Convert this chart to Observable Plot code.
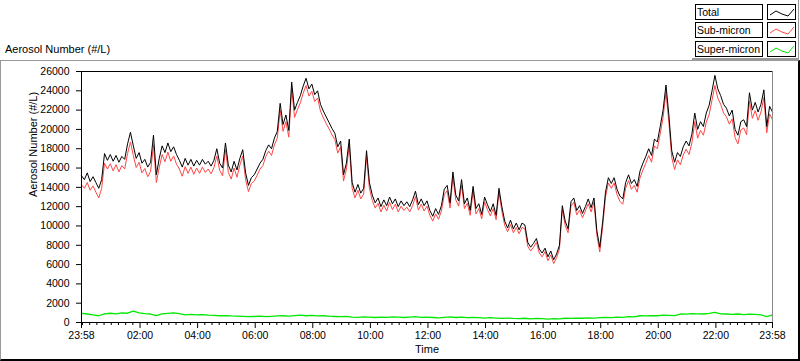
<!DOCTYPE html>
<html>
<head>
<meta charset="utf-8">
<script src="https://cdn.jsdelivr.net/npm/d3@7"></script>
<script src="https://cdn.jsdelivr.net/npm/@observablehq/plot@0.6"></script>
<style>
  html, body { margin: 0; padding: 0; background: #fff; }
  #wrap { position: relative; width: 800px; height: 361px; background: #fff; overflow: hidden;
          font-family: "Liberation Sans", Arial, sans-serif; color: #000; }
  #wrap svg.plot { position: absolute; left: 0; top: 0; }
  .panel { position: absolute; left: 0; top: 60px; width: 797px; height: 298px;
           border-top: 1px solid #9a9a9a; border-left: 1px solid #9a9a9a;
           border-right: 2px solid #000; border-bottom: 2px solid #000; }
  .legpanel { position: absolute; left: 692px; top: 0; width: 106px; height: 58px;
              border-right: 1px solid #9a9a9a; border-bottom: 2px solid #9a9a9a; }
  .title { position: absolute; left: 5px; top: 43px; font-size: 11px; white-space: nowrap; }
  .leg-name { position: absolute; left: 695px; width: 65px; height: 14px; border: 1px solid #000;
              font-size: 10.5px; line-height: 14px; padding-left: 1px; box-sizing: content-box; white-space: nowrap; overflow: hidden; }
  .leg-swatch { position: absolute; left: 767px; width: 27px; height: 14px; border: 1px solid #000; }
</style>
</head>
<body>
<div id="wrap">
  <div class="panel"></div>
  <div class="legpanel"></div>
</div>
<script>
// ---------------- data ----------------
const seriesNames = ["Total", "Sub-micron", "Super-micron"];
const seriesColors = ["#000000", "#ff4646", "#00e800"];
const titleText = "Aerosol Number (#/L)";
const xLabelText = "Time";
const xTickLabels = ["23:58","02:00","04:00","06:00","08:00","10:00","12:00","14:00","16:00","18:00","20:00","22:00","23:58"];
const yTicks = [0,2000,4000,6000,8000,10000,12000,14000,16000,18000,20000,22000,24000,26000];

// Total (#/L), one reading every 6 minutes from 23:58
const totalVals = [
15200,14800,15500,14600,15100,14500,13900,14800,17500,16800,
17400,16700,17300,16600,17200,16900,18500,19700,18300,17000,
17600,16500,16900,16100,16600,19400,15300,17000,18300,17600,
18600,17700,18200,17400,16800,16100,17000,16300,16900,16200,
16800,16300,16900,16400,16700,16200,16800,18000,16500,16000,
18600,16300,15600,16700,15800,17000,17900,15500,14200,15000,
15300,15900,16500,16900,17800,18400,18000,19100,19800,22700,
20500,21500,19900,24900,22000,22800,23500,24500,25300,24200,
24700,23600,24000,22600,21900,21300,20700,20100,19600,18200,
18800,15300,16500,19000,14500,13500,14300,13400,13900,17800,
14500,13200,12400,12900,12000,12700,12100,13000,12300,12800,
12000,12600,12100,12500,12000,12700,13600,12200,12800,12100,
12600,11600,11000,11800,11200,12100,13800,14200,12400,15600,
13200,12600,14800,12300,12900,11600,14100,11800,12300,11200,
13000,12200,11500,12300,11100,13900,12000,10500,9800,10600,
9700,10300,9600,10300,10100,8300,7800,8200,8700,7600,
7200,7700,6800,7400,6500,7100,8000,12100,10500,9700,
12500,12900,11600,12100,11300,12000,12800,11900,12900,9500,
7800,10400,13500,15000,14400,15000,13800,13100,12800,14500,
15300,14400,14800,14100,15700,16500,17200,18000,17300,19000,
18700,20300,22000,24600,21500,17800,16600,17600,17200,18200,
18800,18300,19500,21700,20000,20800,20300,21700,22500,24000,
25600,24200,23500,22600,22200,21400,22000,20000,19400,20800,
21000,20300,23800,22000,22800,21800,22600,24100,20300,22400,
21800
];

// Sub-micron (#/L), one reading every 6 minutes from 23:58
const subVals = [
14250,13900,14500,13700,14150,13500,12900,13900,16500,15900,
16450,15700,16350,15600,16250,15900,17500,18700,17300,16050,
16600,15500,15950,15100,15650,18400,14500,16050,17400,16650,
17650,16700,17250,16400,15900,15150,16150,15450,16100,15350,
16000,15450,16100,15550,15900,15400,16050,17250,15750,15200,
17900,15550,14850,16000,15050,16300,17250,14800,13550,14400,
14650,15250,15900,16250,17200,17750,17300,18400,19100,22000,
19800,20800,19200,24200,21250,22050,22750,23750,24550,23450,
23950,22900,23250,21900,21200,20600,20050,19450,18950,17550,
18200,14650,15850,18350,13900,12900,13700,12800,13300,17200,
13900,12650,11850,12350,11450,12150,11550,12450,11700,12250,
11450,12050,11600,11950,11450,12100,13050,11650,12250,11550,
12050,11100,10500,11250,10700,11550,13250,13650,11850,15050,
12700,12050,14250,11800,12350,11100,13600,11250,11800,10750,
12500,11700,11050,11800,10650,13450,11550,10050,9400,10150,
9300,9850,9200,9850,9700,7900,7400,7800,8300,7200,
6800,7350,6400,7000,6100,6700,7600,11700,10050,9300,
12050,12450,11150,11650,10850,11550,12300,11450,12450,9050,
7300,9900,13000,14450,13900,14450,13250,12550,12250,13900,
14700,13800,14200,13500,15000,15800,16500,17300,16600,18300,
18000,19550,21250,23850,20750,17100,15850,16850,16350,17350,
17950,17400,18600,20800,19100,19900,19400,20750,21550,23050,
24550,23250,22600,21700,21300,20550,21100,19150,18500,19950,
20150,19450,22950,21150,21950,20950,21800,23300,19650,21600,
21000
];

// Super-micron (#/L), one reading every 12 minutes from 23:58
const superVals = [
950,880,780,700,900,960,900,1000,960,1180,
1000,920,880,720,900,950,1000,920,800,850,
780,820,760,740,700,720,680,660,640,600,
620,650,600,640,680,700,660,720,760,700,
740,680,700,650,620,600,640,560,540,580,
560,520,560,540,580,560,520,560,600,540,
560,520,480,540,580,520,560,500,540,500,
460,500,460,420,460,420,400,440,380,420,
400,360,400,380,440,420,460,440,480,460,
500,540,500,560,540,600,580,700,680,720,
700,760,740,720,880,860,920,900,880,940,
1060,900,880,840,880,820,860,840,800,620,
800
];

// ---------------- build ----------------
const t0 = new Date(Date.UTC(2000, 0, 1, 23, 58));
const t1 = new Date(Date.UTC(2000, 0, 2, 23, 58));
const toRows = (vals, step) => vals.map((v, i) => ({t: d3.utcMinute.offset(t0, i * step), v}));
const totalRows = toRows(totalVals, 6);
const subRows = toRows(subVals, 6);
const superRows = toRows(superVals, 12);

const tickDates = xTickLabels.map((s, k) => k === 0 ? t0 :
  new Date(Date.UTC(2000, 0, 2, +s.slice(0, 2), +s.slice(3, 5))));
const tickLabelMap = new Map(tickDates.map((d, k) => [+d, xTickLabels[k]]));
const majorSet = new Set(tickDates.map(d => +d));
const minorDates = d3.utcMinute.every(15).range(t0, t1).filter(d => !majorSet.has(+d));

const chart = Plot.plot({
  width: 800,
  height: 361,
  marginTop: 71,
  marginBottom: 39,
  marginLeft: 81,
  marginRight: 28,
  style: {fontFamily: '"Liberation Sans", Arial, sans-serif', fontSize: "10px", color: "#000", background: "transparent", overflow: "visible"},
  x: {type: "utc", domain: [t0, t1]},
  y: {domain: [0, 26000]},
  marks: [
    Plot.axisY({ticks: yTicks, tickSize: 5, tickPadding: 7, tickFormat: d => String(d), label: null, fontSize: 10.5}),
    Plot.axisX({ticks: minorDates, tickSize: 3, tickFormat: () => "", label: null}),
    Plot.axisX({ticks: tickDates, tickSize: 6, tickPadding: 3, tickFormat: d => tickLabelMap.get(+d), label: null, fontSize: 10.5}),
    Plot.line(superRows, {x: "t", y: "v", stroke: seriesColors[2], strokeWidth: 1.3}),
    Plot.line(subRows, {x: "t", y: "v", stroke: seriesColors[1], strokeWidth: 1}),
    Plot.line(totalRows, {x: "t", y: "v", stroke: seriesColors[0], strokeWidth: 1}),
    Plot.ruleY([26000], {stroke: "#000"}),
    Plot.ruleY([0], {stroke: "#000"}),
    Plot.ruleX([t0], {stroke: "#000"}),
    Plot.ruleX([t1], {stroke: "#8a8a8a"}),
    Plot.text([titleText], {frameAnchor: "left", rotate: -90, dx: -48, fontSize: 11}),
    Plot.text([xLabelText], {frameAnchor: "bottom", dy: 30, fontSize: 11})
  ]
});
chart.classList.add("plot");
const wrap = document.getElementById("wrap");
wrap.appendChild(chart);

// title above the graph
const title = document.createElement("div");
title.className = "title";
title.textContent = titleText;
wrap.appendChild(title);

// legend (top right)
const legTops = [4, 22, 41];
seriesNames.forEach((name, k) => {
  const nm = document.createElement("div");
  nm.className = "leg-name";
  nm.style.top = legTops[k] + "px";
  nm.textContent = name;
  wrap.appendChild(nm);
  const sw = document.createElement("div");
  sw.className = "leg-swatch";
  sw.style.top = legTops[k] + "px";
  sw.innerHTML = `<svg width="27" height="14"><polyline points="2,10 8,6 14,9 20,11 26,4" fill="none" stroke="${seriesColors[k]}" stroke-width="1"/></svg>`;
  wrap.appendChild(sw);
});
</script>
</body>
</html>
